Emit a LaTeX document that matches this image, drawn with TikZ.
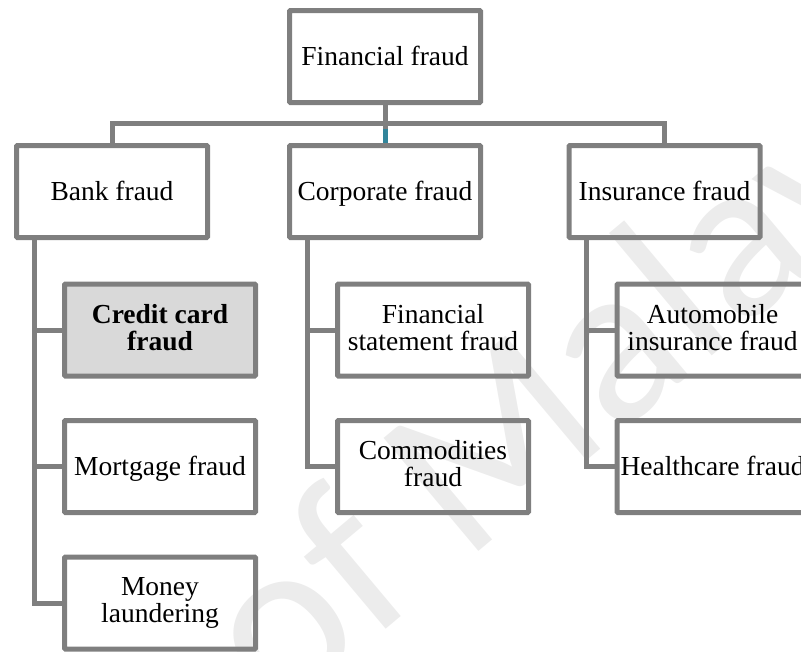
\documentclass[tikz,border=0pt]{standalone}
\usepackage{fontspec}
\setmainfont{Liberation Serif}
\newfontfamily\wmfont{Carlito}
\usetikzlibrary{positioning}
\definecolor{linegray}{RGB}{127,127,127}
\definecolor{cardgray}{RGB}{217,217,217}
\definecolor{busteal}{RGB}{49,133,155}
\definecolor{wmgray}{RGB}{236,236,236}
\newcommand\fstrut{\rule[-0.216em]{0pt}{1.107em}}
\tikzset{fbox/.style = {draw=linegray, line width=5pt, rounded corners=1pt, minimum width=191pt, minimum height=92pt, align=center, inner sep=0pt, font=\fontsize{27.5}{27}\selectfont, execute at begin node=\fstrut, execute at end node=\fstrut}}
\tikzset{conn/.style = {draw=linegray, line width=5pt}}

\begin{document}
\begin{tikzpicture}[x=1pt, y=-1pt]
      \useasboundingbox (0,0) rectangle (801,651);
      \clip (0,0) rectangle (801,651);
      \node [rotate=40, anchor=base west, text=wmgray, inner sep=0, font=\wmfont\fontsize{230}{230}\selectfont] (wm) at (278,720) {of Malaya};

      \node [fbox] (fin) at (385,56.5) {Financial fraud};
      \node [fbox] (bank) at (112,191.5) {Bank fraud};
      \node [fbox] (corp) at (385,191.5) {Corporate fraud};
      \node [fbox] (ins) at (664.5,191.5) {Insurance fraud};

      \node [fbox, fill=cardgray, font=\fontsize{27.5}{27}\selectfont\bfseries] (card) at (160,330) {Credit card\\fraud};
      \node [fbox] (mort) at (160,466.5) {Mortgage fraud};
      \node [fbox] (money) at (160,603) {Money\\laundering};
      \node [fbox] (stmt) at (433,330) {Financial\\statement fraud};
      \node [fbox] (comm) at (433,466.5) {Commodities\\fraud};
      \node [fbox] (auto) at (712.5,330) {Automobile\\insurance fraud};
      \node [fbox] (health) at (712.5,466.5) {Healthcare fraud};

      \draw [conn, draw=busteal] (corp.north) -- ++(0,-19.5);
      \draw [conn] (fin.south) -- ++(0,23.5);
      \draw [conn] (bank.north) -- ++(0,-19.5) -| (ins.north);

      \draw [conn] ([xshift=20pt]bank.south west) |- (card.west);
      \draw [conn] ([xshift=20pt]bank.south west) |- (mort.west);
      \draw [conn] ([xshift=20pt]bank.south west) |- (money.west);
      \draw [conn] ([xshift=20pt]corp.south west) |- (stmt.west);
      \draw [conn] ([xshift=20pt]corp.south west) |- (comm.west);
      \draw [conn] ([xshift=20pt]ins.south west) |- (auto.west);
      \draw [conn] ([xshift=20pt]ins.south west) |- (health.west);
    \end{tikzpicture}
\end{document}
